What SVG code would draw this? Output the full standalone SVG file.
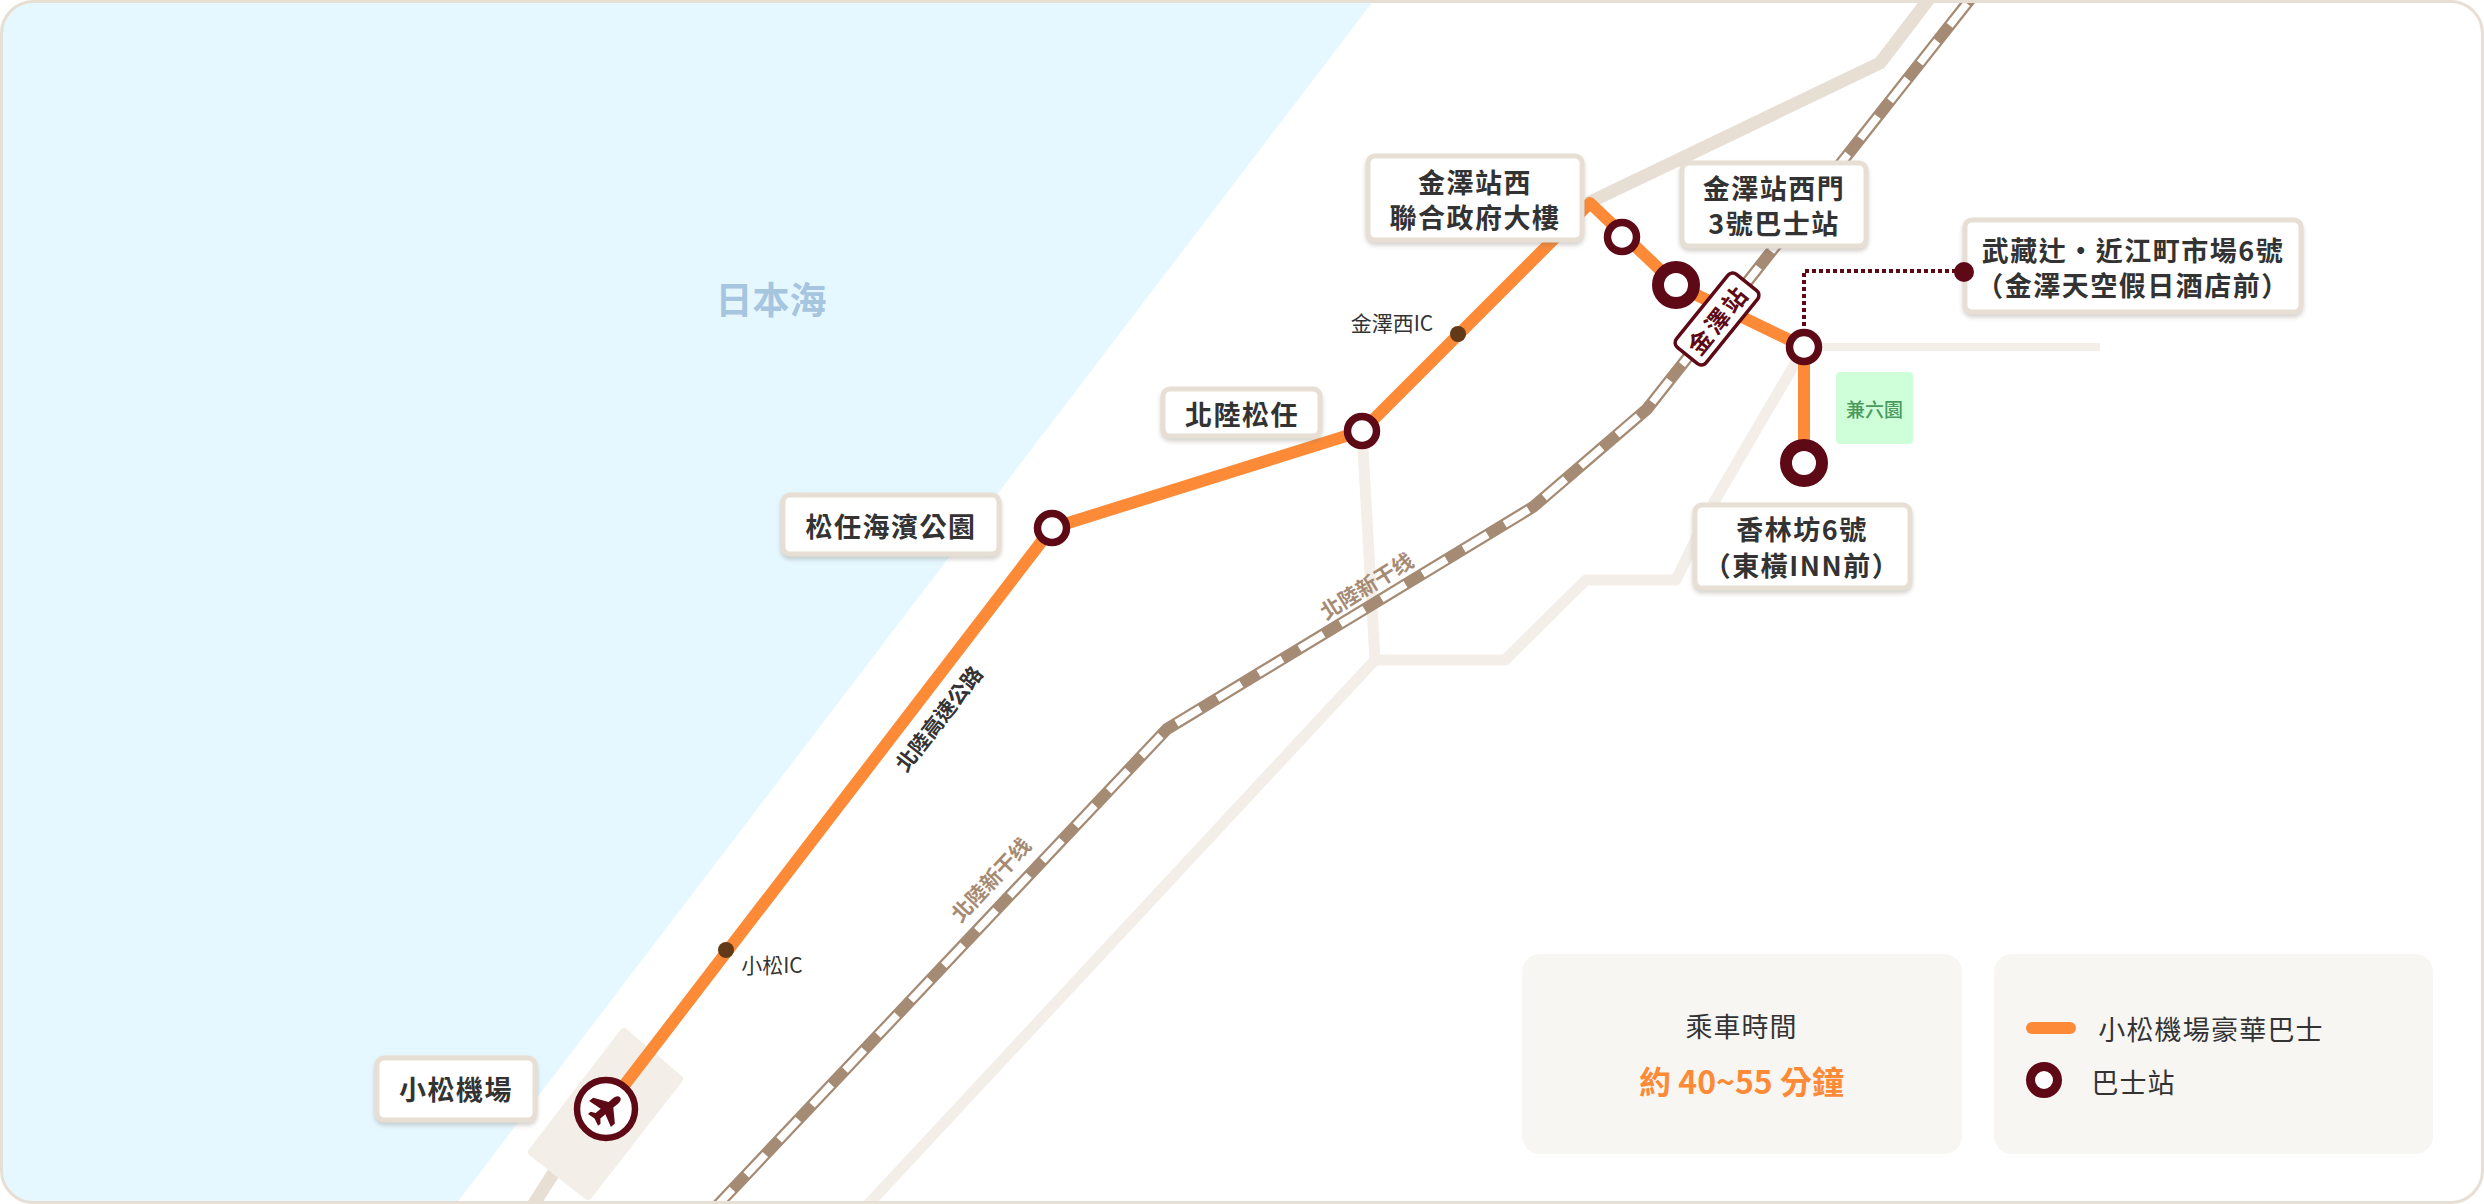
<svg xmlns="http://www.w3.org/2000/svg" width="2484" height="1204" viewBox="0 0 2484 1204">
<style>
text{font-family:"Noto Sans CJK TC","Noto Sans",sans-serif;text-anchor:middle;dominant-baseline:central;fill:#333}
.lb{font-size:27px;font-weight:700;letter-spacing:1.5px}
.box{fill:#fff;stroke:#e8dfd4;stroke-width:5;filter:drop-shadow(0 3px 2px rgba(120,110,100,.3))}
.road{fill:none;stroke:#f3efe8;stroke-width:11;stroke-linejoin:round}
.road2{fill:none;stroke:#e8dfd4;stroke-width:13;stroke-linejoin:round}
.rail{fill:none;stroke:#a68b74;stroke-width:12}
.railw{fill:none;stroke:#fff;stroke-width:7.500;stroke-dasharray:28 20;stroke-dashoffset:-14.600}
.route{fill:none;stroke:#fc8a37;stroke-width:12;stroke-linejoin:round}
.st{fill:#fff;stroke:#5e0a16;stroke-width:7.500}
.stb{fill:#fff;stroke:#5e0a16;stroke-width:12}
.ic{fill:#633a17}
.sm{font-size:21px}
.rl{font-size:21px;fill:#a68b74;font-weight:700}
</style>
<defs><clipPath id="c"><rect x="1.5" y="1.5" width="2481" height="1201" rx="32"/></clipPath></defs>
<rect x="1.5" y="1.5" width="2481" height="1201" rx="32" fill="#fff"/>
<g clip-path="url(#c)">
<polygon points="0,0 1374,0 456,1204 0,1204" fill="#e6f8ff"/>
<g id="airport-area"><path class="road2" d="M530,1210 L600,1100"/><path d="M624,1032 L679,1079 L588,1196 L532,1152 Z" fill="#f3efe8" stroke="#f3efe8" stroke-width="8" stroke-linejoin="round"/></g>
<g id="connectors">
<path class="road2" d="M1588,203 L1880,63 L1932,-5"/>
<path class="road" style="stroke-width:8" d="M1804,347 H2100"/>
<path class="road" d="M1800,355 L1714,502 L1676,580 H1586 L1505,660 H1375 L1362,431"/>
<path class="road" d="M1375,660 L863,1210"/>
<path class="rail" d="M1976,-8 L1647,409 L1533,507 L1167,729 L713,1210"/>
<path class="railw" d="M1976,-8 L1647,409 L1533,507 L1167,729 L713,1210"/>
<path class="route" d="M606,1109 L1052,528 L1362,431 L1590,203 L1676,285 L1804,347 V463"/>
<path d="M1804,347 V271 H1964" fill="none" stroke="#5e0a16" stroke-width="4" stroke-dasharray="4 3"/>
</g>
<g id="park"><rect x="1836" y="372" width="77" height="72" rx="4" fill="#cfffd9"/><text x="1874.500" y="408" class="sm" style="fill:#4a9a5c;font-size:19px;font-weight:500">兼六園</text></g>
<g id="sea-label"><text x="771" y="298" style="font-size:37px;font-weight:700;fill:#a6c5df">日本海</text></g>
<g id="road-labels">
<text class="sm" x="1392" y="322">金澤西IC</text>
<text class="sm" x="772" y="964">小松IC</text>
<text class="sm" x="938" y="718" font-weight="700" transform="rotate(-52 938 718)">北陸高速公路</text>
<text class="rl" x="1366" y="585" transform="rotate(-32 1366 585)">北陸新干线</text>
<text class="rl" x="990" y="879" transform="rotate(-47 990 879)">北陸新干线</text>
</g>
<g id="ic-komatsu"><circle class="ic" cx="726" cy="950" r="8"/></g>
<g id="ic-kanazawa"><circle class="ic" cx="1458" cy="334" r="8"/></g>
<g id="komatsu-airport">
<circle cx="606" cy="1109" r="29" fill="#fff" stroke="#5e0a16" stroke-width="6.500"/>
<path transform="translate(606 1109) rotate(50) scale(1.3)" fill="#5e0a16" d="M0,-14 C2,-14 2.800,-12 2.800,-10 V-5 L13,2 V6 L2.800,3 V8 L6,10.500 V13 L0,11.500 L-6,13 V10.500 L-2.800,8 V3 L-13,6 V2 L-2.800,-5 V-10 C-2.800,-12 -2,-14 0,-14 Z"/>
<rect class="box" x="377" y="1058" width="158" height="62" rx="7"/>
<text class="lb" x="456" y="1088">小松機場</text>
</g>
<g id="matto-park">
<circle class="st" cx="1052" cy="528" r="14.500"/>
<rect class="box" x="783" y="495" width="216" height="59" rx="7"/>
<text class="lb" x="891" y="525">松任海濱公園</text>
</g>
<g id="hokuriku-matto">
<circle class="st" cx="1362" cy="431" r="14.500"/>
<rect class="box" x="1163" y="389" width="157" height="47" rx="7"/>
<text class="lb" x="1242" y="413">北陸松任</text>
</g>
<g id="kanazawa-west-office">
<rect class="box" x="1368" y="156" width="214" height="84" rx="7"/>
<text class="lb" x="1475" y="181">金澤站西</text>
<text class="lb" x="1475" y="216">聯合政府大樓</text>
<circle class="st" cx="1622" cy="237" r="14.500"/>
</g>
<g id="kanazawa-west-gate">
<circle class="stb" cx="1676" cy="285" r="18"/>
<rect class="box" x="1682" y="163" width="184" height="83" rx="7"/>
<text class="lb" x="1774" y="187">金澤站西門</text>
<text class="lb" x="1774" y="222">3號巴士站</text>
</g>
<g id="kanazawa-station">
<rect x="-47" y="-19" width="94" height="38" rx="6" transform="translate(1717 319) rotate(-51)" fill="#fff" stroke="#5e0a16" stroke-width="3.500"/>
<text x="1717" y="319" transform="rotate(-51 1717 319)" style="font-size:24px;font-weight:700;fill:#5e0a16;letter-spacing:3px">金澤站</text>
</g>
<g id="musashi">
<rect class="box" x="1965" y="220" width="336" height="92" rx="7"/>
<text class="lb" x="2133" y="249">武藏辻・近江町市場6號</text>
<text class="lb" x="2133" y="284">（金澤天空假日酒店前）</text>
<circle cx="1964" cy="272" r="10" fill="#5e0a16"/>
<circle class="st" cx="1804" cy="347" r="14.500"/>
</g>
<g id="korinbo">
<circle class="stb" cx="1804" cy="463" r="18"/>
<rect class="box" x="1695" y="505" width="215" height="83" rx="7"/>
<text class="lb" x="1802" y="528">香林坊6號</text>
<text class="lb" x="1802" y="564">（東橫INN前）</text>
</g>
<g id="legend-time">
<rect x="1522" y="954" width="440" height="200" rx="18" fill="#f8f6f3"/>
<text x="1741.500" y="1025" font-size="27" letter-spacing="1">乘車時間</text>
<text x="1741.500" y="1080" font-size="32" font-weight="700" style="fill:#fc8a37">約 40~55 分鐘</text>
</g>
<g id="legend-key">
<rect x="1994" y="954" width="439" height="200" rx="18" fill="#f8f6f3"/>
<rect x="2026" y="1022" width="50" height="12" rx="6" fill="#fc8a37"/>
<text x="2211" y="1028" font-size="27" letter-spacing="1.200">小松機場豪華巴士</text>
<circle class="st" style="stroke-width:9" cx="2044" cy="1080" r="13.500"/>
<text x="2133.500" y="1081" font-size="27" letter-spacing="1">巴士站</text>
</g>
</g>
<rect x="1.5" y="1.5" width="2481" height="1201" rx="32" fill="none" stroke="#e8dfd4" stroke-width="3"/>
</svg>
